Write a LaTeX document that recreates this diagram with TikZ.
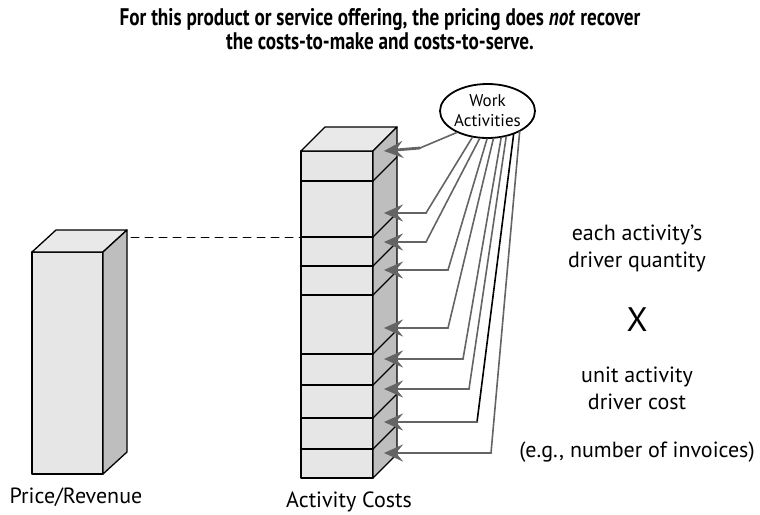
\documentclass[tikz,border=0pt]{standalone}
\usepackage{fontspec}
\setmainfont{PT Sans}
\newfontfamily\titlefont[FakeStretch=0.8]{PT Sans}
\usetikzlibrary{arrows.meta,shapes.geometric}
\definecolor{frontgray}{HTML}{E6E6E6}
\definecolor{topgray}{HTML}{E9E9E9}
\definecolor{sidegray}{HTML}{BEBEBE}
\definecolor{linkgray}{HTML}{646464}
\tikzset{
  face/.style={draw=black, line width=1.3pt},
  link/.style={draw=#1, line width=1.6pt},
  link/.default=linkgray,
  linkarrow/.style={draw=linkgray, line width=2.8pt,
    -{Stealth[length=19pt,width=17pt,inset=7pt]}},
  label/.style={font=\fontsize{22}{27}\selectfont, align=center},
}
\begin{document}
\begin{tikzpicture}[x=1pt, y=-1pt, line join=round, line cap=round]
  \useasboundingbox (0,0) rectangle (760,514);
  % title
  \node[font=\titlefont\bfseries\fontsize{24}{24}\selectfont, align=center] (title) at (380,29)
    {For this product or service offering, the pricing does \textit{not} recover\\
     the costs-to-make and costs-to-serve.};
  % price/revenue box
  \path
    (32,252) coordinate (PA)
    (103,252) coordinate (PB)
    (103,474) coordinate (PC)
    (32,474) coordinate (PD);
  \foreach \x in {A,B,C,D}
    \path (P\x)+(24,-22) coordinate (P\x');
  \draw[face, fill=frontgray] (PA)--(PB)--(PC)--(PD)--cycle;
  \draw[face, fill=topgray] (PA)--(PA')--(PB')--(PB)--cycle;
  \draw[face, fill=sidegray] (PB)--(PB')--(PC')--(PC)--cycle;
  % activity cost stack
  \path
    (301,151) coordinate (CA)
    (373,151) coordinate (CB)
    (373,478) coordinate (CC)
    (301,478) coordinate (CD);
  \foreach \x in {A,B,C,D}
    \path (C\x)+(24,-24) coordinate (C\x');
  \draw[face, fill=frontgray] (CA)--(CB)--(CC)--(CD)--cycle;
  \draw[face, fill=topgray] (CA)--(CA')--(CB')--(CB)--cycle;
  \draw[face, fill=sidegray] (CB)--(CB')--(CC')--(CC)--cycle;
  \foreach \y/\w in {181/1.8pt,237/2.6pt,266/2.6pt,295/1.8pt,354/1.8pt,385/1.8pt,418/1.8pt,449/2.6pt}{
    \draw[line width=\w] (301,\y) -- (373,\y);
    \draw[line width=1.3pt] (373,\y) -- ++(24,-24);
  }
  \draw[line width=1pt, dash pattern=on 8pt off 6pt] (PB') ++(4,7) coordinate (dashstart) -- (301,237);
  % work activities
  \node[draw, ellipse, line width=1.8pt, fill=white, inner sep=0pt,
        minimum width=95pt, minimum height=54pt, align=center,
        font=\fontsize{17}{20}\selectfont] (wa) at (487.5,111) {Work\\Activities};
  \foreach \i/\ang/\ex/\ey/\ty/\col in {
      1/-145/420/148/151/linkgray,
      2/-120/426/213/213/linkgray,
      3/-106/426/242/242/linkgray,
      4/-91/448/270/270/linkgray,
      5/-78/448/328/328/linkgray,
      6/-63/463/359/359/linkgray,
      7/-54/469/389/389/linkgray,
      8/-42/477/422/422/black,
      9/-33/491/453/453/linkgray}{
    \path (\ex,\ey) coordinate (e\i) (384,\ty) coordinate (t\i);
    \draw[link=\col] (wa.\ang) -- (e\i);
    \draw[linkarrow] (e\i) -- (t\i);
  }
  % labels
  \node[label] (price) at (76,497) {Price/Revenue};
  \node[label] (costs) at (349,502) {Activity Costs};
  \node[label] (qty) at (637,248) {each activity’s\\driver quantity};
  \node[font=\fontsize{34}{36}\selectfont] (times) at (637,320) {X};
  \node[label] (rate) at (637,388) {unit activity\\driver cost};
  \node[label] (eg) at (637,452) {(e.g., number of invoices)};
\end{tikzpicture}
\end{document}
